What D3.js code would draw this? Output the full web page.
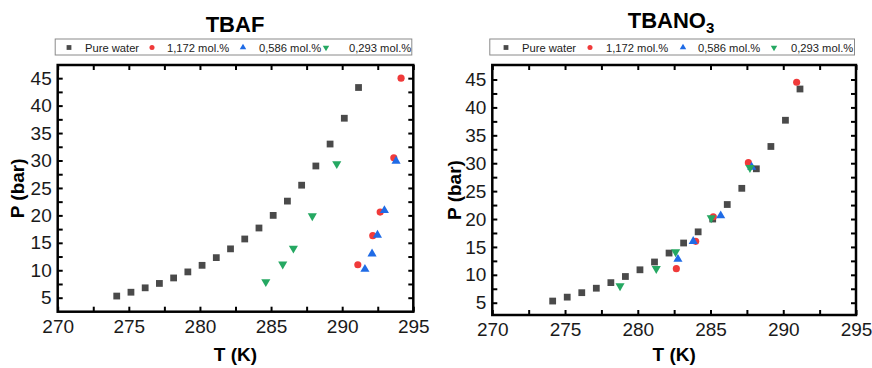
<!DOCTYPE html>
<html>
<head>
<meta charset="utf-8">
<script src="https://cdn.jsdelivr.net/npm/d3@7"></script>
<style>
	body { margin: 0; background: #fff; }
	svg text { font-family: "Liberation Sans", Arial, sans-serif; }
</style>
</head>
<body>
<div id="chart"></div>
<script>
// DATA
var seriesNames = ["Pure water", "1,172 mol.%", "0,586 mol.%", "0,293 mol.%"];
var xTicks = [270, 272.5, 275, 277.5, 280, 282.5, 285, 287.5, 290, 292.5, 295];
var yTicks = [5, 7.5, 10, 12.5, 15, 17.5, 20, 22.5, 25, 27.5, 30, 32.5, 35, 37.5, 40, 42.5, 45];

// pure water, same in both panels
var waterT = [274.15, 275.15, 276.15, 277.15, 278.15, 279.15, 280.15, 281.15, 282.15, 283.15, 284.15, 285.15, 286.15, 287.15, 288.15, 289.15, 290.15, 291.15];
var waterP = [5.3, 6.0, 6.8, 7.6, 8.6, 9.7, 10.9, 12.3, 13.9, 15.7, 17.7, 20.0, 22.6, 25.5, 29.0, 33.0, 37.7, 43.3];

// TBAF
var tbafRedT = [291.1, 292.15, 292.67, 293.63, 294.14];
var tbafRedP = [11.0, 16.3, 20.6, 30.5, 45.0];
var tbafBlueT = [291.6, 292.1, 292.48, 292.97, 293.79];
var tbafBlueP = [10.2, 13.0, 16.4, 20.9, 29.9];
var tbafGreenT = [284.63, 285.82, 286.57, 287.9, 289.62];
var tbafGreenP = [7.9, 11.1, 14.0, 19.9, 29.4];

// TBANO3
var nitRedT = [282.65, 283.98, 285.19, 287.6, 290.92];
var nitRedP = [11.1, 16.0, 20.4, 30.1, 44.5];
var nitBlueT = [282.76, 283.81, 285.7, 287.83];
var nitBlueP = [12.8, 16.0, 20.6, 29.3];
var nitGreenT = [278.78, 281.27, 282.6, 285.05, 287.71];
var nitGreenP = [8.0, 11.1, 14.1, 20.2, 29.2];

var colors = ["#4a4a4a", "#f03a3a", "#1f6be6", "#25a862"];
var shapes = [d3.symbolSquare, d3.symbolCircle, d3.symbolTriangle, d3.symbolTriangle];
var sizes = [46, 40, 36, 36];
var rotations = [0, 0, 0, 180];

var svg = d3.select("#chart").append("svg")
	.attr("width", 872)
	.attr("height", 368);

function zip(ts, ps) {
	return ts.map(function(t, i) { return [t, ps[i]]; });
}

function panel(opts) {
	var x = d3.scaleLinear().domain([270, 295]).range([opts.left, opts.right]);
	var y = d3.scaleLinear().domain(opts.ydomain).range([opts.bottom, opts.top]);

	// title
	var title = svg.append("text")
		.attr("x", opts.titleX)
		.attr("y", opts.titleY)
		.attr("text-anchor", "middle")
		.style("font-size", "22px")
		.style("font-weight", "bold")
		.text(opts.title);
	if (opts.sub) {
		title.append("tspan")
			.attr("dy", 5)
			.style("font-size", "15px")
			.text(opts.sub);
	}

	// legend
	var lg = svg.append("g").attr("class", "legend");
	lg.append("rect")
		.attr("x", opts.left - 2.5)
		.attr("y", 39)
		.attr("width", opts.right - opts.left + 1)
		.attr("height", 16)
		.attr("fill", "#fff")
		.attr("stroke", "#8a8a8a")
		.attr("stroke-width", 1);
	seriesNames.forEach(function(name, i) {
		lg.append("path")
			.attr("d", d3.symbol().type(shapes[i]).size(sizes[i] * 0.5)())
			.attr("transform", "translate(" + opts.legendSym[i] + ",47.5) rotate(" + rotations[i] + ")")
			.attr("fill", colors[i]);
		lg.append("text")
			.attr("x", opts.legendText[i])
			.attr("y", 51.5)
			.style("font-size", "11.2px")
			.attr("fill", "#222")
			.text(name);
	});

	var g = svg.append("g");

	// axes, ticks pointing inward
	var fmt = function(d) { return d % 5 === 0 ? d : ""; };
	var xb = g.append("g")
		.attr("transform", "translate(0," + opts.bottom + ")")
		.call(d3.axisBottom(x).tickValues(xTicks).tickSizeInner(-5).tickSizeOuter(0).tickPadding(8).tickFormat(fmt));
	var xt = g.append("g")
		.attr("transform", "translate(0," + opts.top + ")")
		.call(d3.axisTop(x).tickValues(xTicks).tickSizeInner(-5).tickSizeOuter(0).tickFormat(""));
	var yl = g.append("g")
		.attr("transform", "translate(" + opts.left + ",0)")
		.call(d3.axisLeft(y).tickValues(yTicks).tickSizeInner(-5).tickSizeOuter(0).tickPadding(6).tickFormat(fmt));
	var yr = g.append("g")
		.attr("transform", "translate(" + opts.right + ",0)")
		.call(d3.axisRight(y).tickValues(yTicks).tickSizeInner(-5).tickSizeOuter(0).tickFormat(""));

	[xb, xt, yl, yr].forEach(function(a) {
		a.select(".domain").remove();
		a.selectAll("line").attr("stroke", "#000").attr("stroke-width", 2);
		a.selectAll("text")
			.style("font-size", "19px")
			.attr("fill", "#1a1a1a")
			.style("font-family", "'Liberation Sans', Arial, sans-serif");
	});

	g.append("rect")
		.attr("x", opts.left)
		.attr("y", opts.top)
		.attr("width", opts.right - opts.left)
		.attr("height", opts.bottom - opts.top)
		.attr("fill", "none")
		.attr("stroke", "#000")
		.attr("stroke-width", 2.5);

	// axis titles
	svg.append("text")
		.attr("x", (opts.left + opts.right) / 2)
		.attr("y", 361)
		.attr("text-anchor", "middle")
		.style("font-size", "19px")
		.style("font-weight", "bold")
		.text("T (K)");
	svg.append("text")
		.attr("transform", "translate(" + opts.ylabelX + "," + ((opts.top + opts.bottom) / 2) + ") rotate(-90)")
		.attr("text-anchor", "middle")
		.style("font-size", "19px")
		.style("font-weight", "bold")
		.text("P (bar)");

	// points
	var data_layer = g.append("g").classed("data", true);
	opts.series.forEach(function(s, i) {
		data_layer.selectAll(null)
			.data(s)
			.enter().append("path")
			.attr("d", d3.symbol().type(shapes[i]).size(sizes[i])())
			.attr("transform", function(d) {
				return "translate(" + x(d[0]) + "," + y(d[1]) + ") rotate(" + rotations[i] + ")";
			})
			.attr("fill", colors[i]);
	});
}

panel({
	title: "TBAF",
	titleX: 235, titleY: 32,
	left: 57.7, right: 413.3, top: 65, bottom: 311.7,
	ydomain: [2.45, 47.4],
	ylabelX: 24,
	legendSym: [69, 152, 243, 326],
	legendText: [85, 167, 259, 349],
	series: [zip(waterT, waterP), zip(tbafRedT, tbafRedP), zip(tbafBlueT, tbafBlueP), zip(tbafGreenT, tbafGreenP)]
});

panel({
	title: "TBANO",
	sub: "3",
	titleX: 671, titleY: 28,
	left: 492.3, right: 856, top: 65, bottom: 315,
	ydomain: [2.8, 47.6],
	ylabelX: 461,
	legendSym: [506, 590, 683, 774],
	legendText: [522, 606, 698, 791],
	series: [zip(waterT, waterP), zip(nitRedT, nitRedP), zip(nitBlueT, nitBlueP), zip(nitGreenT, nitGreenP)]
});
</script>
</body>
</html>
